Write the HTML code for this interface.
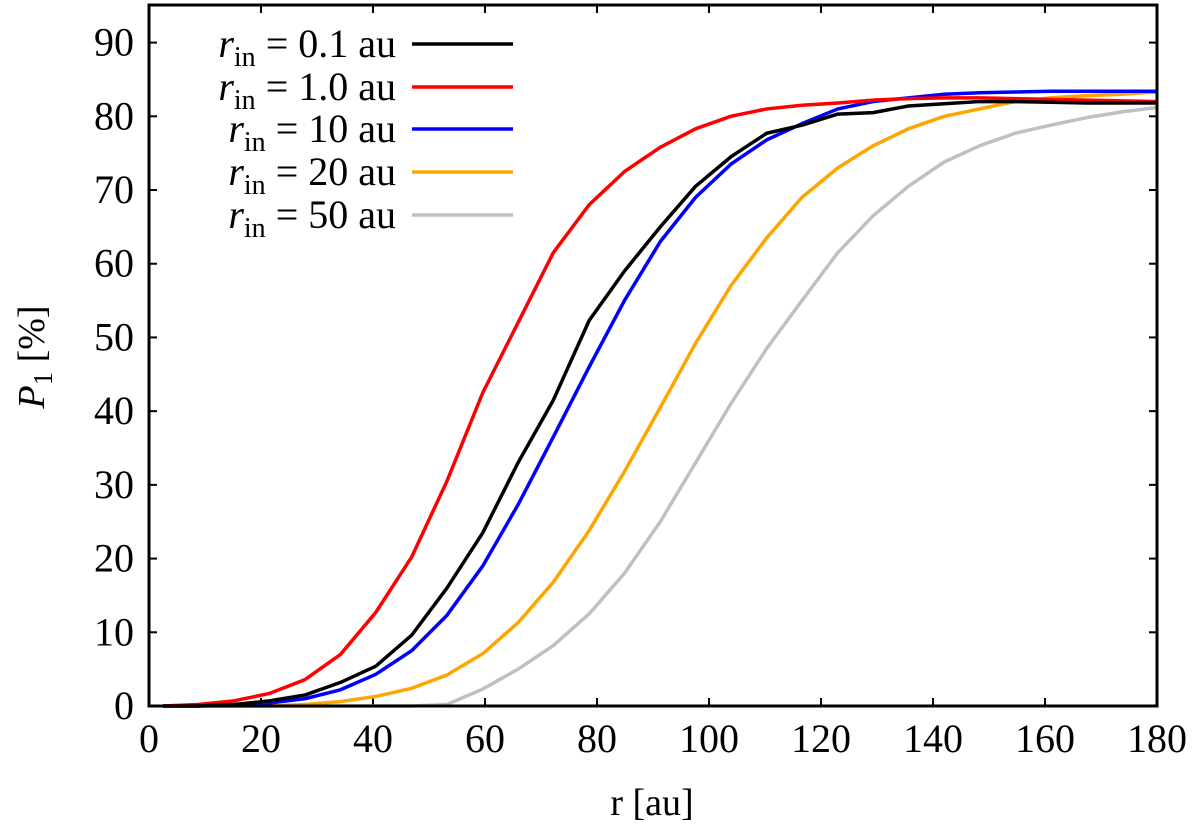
<!DOCTYPE html>
<html><head><meta charset="utf-8"><style>
body{margin:0;background:#fff}
svg text{font-family:"Liberation Serif","DejaVu Serif",serif !important;fill:#000}
</style></head><body>
<svg id="chart" width="1200" height="829" xmlns="http://www.w3.org/2000/svg" font-family="Liberation Serif, DejaVu Serif, serif">
<g id="grid"></g>
<g id="series"></g>
<g id="legend"></g>
<rect x="149" y="5" width="1008" height="701" fill="none" stroke="#000" stroke-width="3"/>
<text x="652" y="815" font-size="38" text-anchor="middle" font-family="Liberation Serif, serif">r [au]</text>
<text transform="translate(44,357) rotate(-90)" font-size="38" text-anchor="middle" font-family="Liberation Serif, serif"><tspan font-style="italic">P</tspan><tspan font-size="27" dy="8">1</tspan><tspan dy="-8"> [%]</tspan></text>
</svg>
<script>
const rVals=[2.5,8.8,15.2,21.5,27.9,34.2,40.5,46.9,53.2,59.6,65.9,72.2,78.6,84.9,91.3,97.6,103.9,110.3,116.6,123.0,129.3,135.6,142.0,148.3,154.7,161.0,167.3,173.7,180.0];
const s01=[0,0,0.2,0.7,1.5,3.2,5.4,9.6,16,23.5,33,41.5,52.3,59,65,70.5,74.5,77.7,78.8,80.3,80.5,81.4,81.7,82,82,81.9,81.8,81.8,81.8];
const s10=[0,0.2,0.7,1.7,3.6,7,12.7,20.2,30.5,42.5,52,61.5,68,72.5,75.8,78.3,80,81,81.5,81.8,82.2,82.4,82.5,82.5,82.4,82.3,82.2,82.1,82];
const s100=[0,0,0.1,0.4,1,2.2,4.3,7.5,12.3,19,27.3,36.5,46,55,63,69,73.5,76.8,79,81,82,82.5,83,83.2,83.3,83.4,83.4,83.4,83.4];
const s200=[0,0,0,0,0.2,0.6,1.3,2.4,4.2,7.1,11.3,16.8,23.8,31.8,40.5,49.2,57,63.5,69,73,76,78.3,80,81,82,82.5,82.8,83,83.3];
const s500=[0,0,0,0,0,0,0,0,0.2,2.3,5,8.2,12.5,18,25,33,41,48.5,55,61.5,66.5,70.5,73.8,76,77.7,78.8,79.8,80.6,81.2];
const xTicks=[0,20,40,60,80,100,120,140,160,180];
const yTicks=[0,10,20,30,40,50,60,70,80,90];
const seriesNames=["0.1","1.0","10","20","50"];
const seriesColors=["#000","#f00","#00f","#ffa500","#c0c0c0"];
const allSeries=[s01,s10,s100,s200,s500];
const NS="http://www.w3.org/2000/svg";
const X=v=>149+v*(1008/180), Y=v=>706-v*(701/95.1);
function mk(tag,attrs,parent){const e=document.createElementNS(NS,tag);for(const k in attrs)e.setAttribute(k,attrs[k]);parent.appendChild(e);return e;}
const FF='Liberation Serif, serif';
const g=document.getElementById('grid');
xTicks.forEach(t=>{
 const x=X(t);
 const a=mk('line',{x1:x,x2:x,y1:706,y2:698,stroke:'#000','stroke-width':2},g);
 
 mk('line',{x1:x,x2:x,y1:5,y2:13,stroke:'#000','stroke-width':2},g);
 const tx=mk('text',{x:x,y:752,'font-size':40,'text-anchor':'middle','font-family':FF},g);tx.textContent=t;
 
});
yTicks.forEach(t=>{
 const y=Y(t);
 const a=mk('line',{x1:149,x2:157,y1:y,y2:y,stroke:'#000','stroke-width':2},g);
 
 mk('line',{x1:1157,x2:1149,y1:y,y2:y,stroke:'#000','stroke-width':2},g);
 const tx=mk('text',{x:134,y:y+13,'font-size':40,'text-anchor':'end','font-family':FF},g);tx.textContent=t;
 
});
const sg=document.getElementById('series'), lg=document.getElementById('legend');
const legY=[44,87,129,172,215];
allSeries.slice().reverse().forEach((s,ri)=>{
 const i=allSeries.length-1-ri;
 const p=mk('polyline',{points:s.map((v,j)=>X(rVals[j])+','+Y(v)).join(' '),fill:'none',stroke:seriesColors[i],'stroke-width':3.5,'stroke-linejoin':'round'},sg);
 
 
});
allSeries.forEach((s,i)=>{
 const y=legY[i];
 const l=mk('line',{x1:412,x2:513,y1:y,y2:y,stroke:seriesColors[i],'stroke-width':3.5},lg);
 
 const t=mk('text',{x:396,y:y+13,'font-size':40,'text-anchor':'end','font-family':FF},lg);
 
 t.innerHTML='<tspan font-style="italic">r</tspan><tspan font-size="28" dy="9">in</tspan><tspan dy="-9"> = '+seriesNames[i]+' au</tspan>';
});
</script>
</body></html>
